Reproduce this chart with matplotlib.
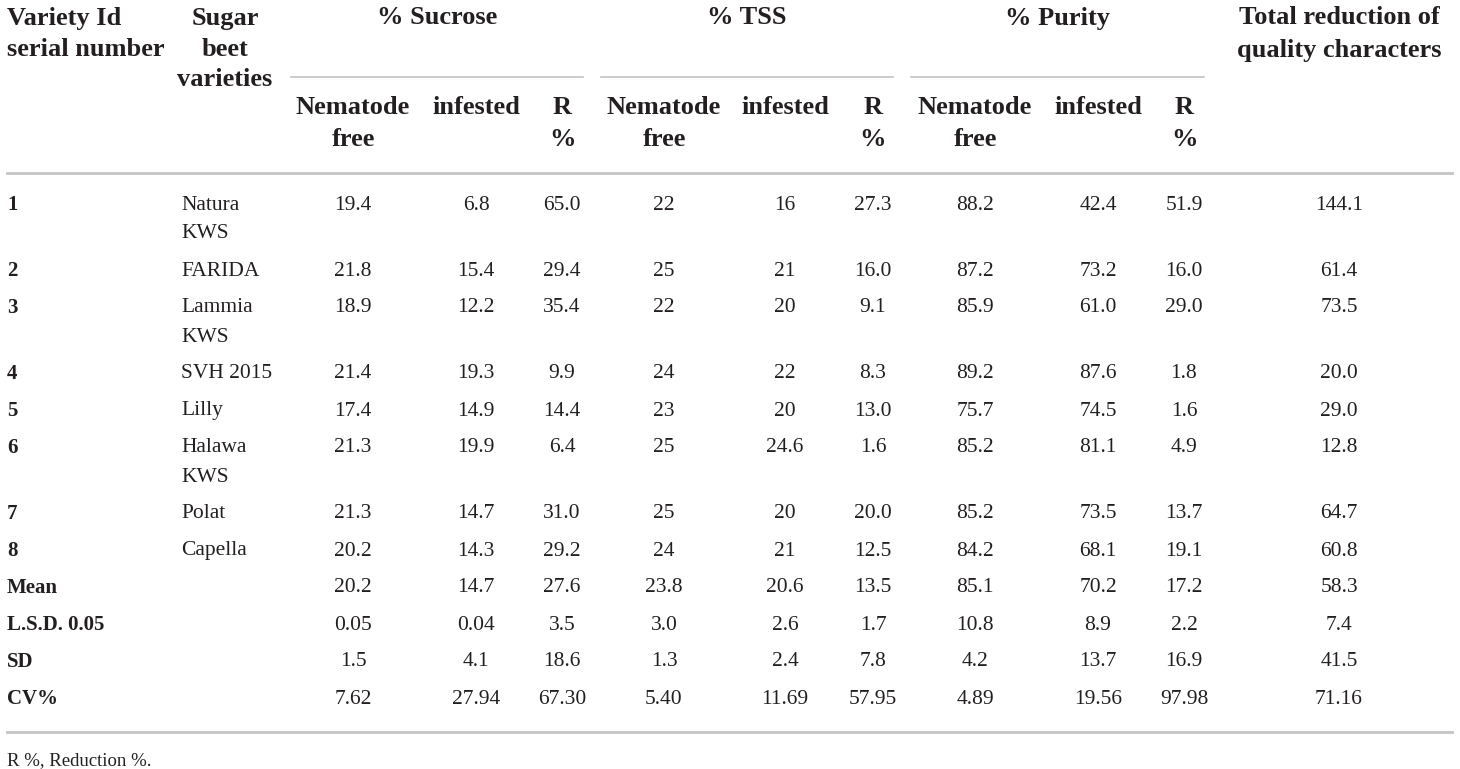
import matplotlib.pyplot as plt

# table contents
ids = ["1", "2", "3", "4", "5", "6", "7", "8", "Mean", "L.S.D. 0.05", "SD", "CV%"]
varieties = ["Natura\nKWS", "FARIDA", "Lammia\nKWS", "SVH 2015", "Lilly", "Halawa\nKWS",
             "Polat", "Capella", "", "", "", ""]
sucrose_free = ["19.4", "21.8", "18.9", "21.4", "17.4", "21.3", "21.3", "20.2", "20.2", "0.05", "1.5", "7.62"]
sucrose_inf = ["6.8", "15.4", "12.2", "19.3", "14.9", "19.9", "14.7", "14.3", "14.7", "0.04", "4.1", "27.94"]
sucrose_r = ["65.0", "29.4", "35.4", "9.9", "14.4", "6.4", "31.0", "29.2", "27.6", "3.5", "18.6", "67.30"]
tss_free = ["22", "25", "22", "24", "23", "25", "25", "24", "23.8", "3.0", "1.3", "5.40"]
tss_inf = ["16", "21", "20", "22", "20", "24.6", "20", "21", "20.6", "2.6", "2.4", "11.69"]
tss_r = ["27.3", "16.0", "9.1", "8.3", "13.0", "1.6", "20.0", "12.5", "13.5", "1.7", "7.8", "57.95"]
purity_free = ["88.2", "87.2", "85.9", "89.2", "75.7", "85.2", "85.2", "84.2", "85.1", "10.8", "4.2", "4.89"]
purity_inf = ["42.4", "73.2", "61.0", "87.6", "74.5", "81.1", "73.5", "68.1", "70.2", "8.9", "13.7", "19.56"]
purity_r = ["51.9", "16.0", "29.0", "1.8", "1.6", "4.9", "13.7", "19.1", "17.2", "2.2", "16.9", "97.98"]
total = ["144.1", "61.4", "73.5", "20.0", "29.0", "12.8", "64.7", "60.8", "58.3", "7.4", "41.5", "71.16"]

groups = ["% Sucrose", "% TSS", "% Purity"]
sub_headers = ["Nematode\nfree", "infested", "R\n%"]
footnote = "R %, Reduction %."

plt.rcParams['font.family'] = ['Liberation Serif', 'DejaVu Serif']
txt = "#231f20"
rule = "#c4c4c4"
fs = 15.5
hfs = 19

fig = plt.figure(figsize=(14.6, 7.69), dpi=100)
ax = fig.add_axes([0, 0, 1, 1])
ax.set_xlim(0, 1460)
ax.set_ylim(769, 0)
ax.axis("off")

line_h = 29
head_h = 32
val_cols = [sucrose_free, sucrose_inf, sucrose_r, tss_free, tss_inf, tss_r,
            purity_free, purity_inf, purity_r, total]
col_x = [353, 476, 562, 664, 785, 873, 975, 1098, 1184, 1339]
group_spans = [(291, 583), (601, 893), (911, 1204)]


def put(x, y, s, ha="center", bold=False, size=fs):
    ax.text(x, y, s, ha=ha, va="center", fontsize=size, color=txt,
            fontweight="bold" if bold else "normal")


def put_lines(x, y, s, ha="center", bold=False, size=fs, step=line_h):
    for k, part in enumerate(s.split("\n")):
        put(x, y + k * step, part, ha=ha, bold=bold, size=size)


# header
put_lines(7, 18, "Variety Id\nserial number", ha="left", bold=True, size=hfs, step=head_h)
put_lines(225, 18, "Sugar\nbeet\nvarieties", bold=True, size=hfs, step=31)
for g, (x0, x1) in zip(groups, group_spans):
    put((x0 + x1) / 2, 18, g, bold=True, size=hfs)
    ax.plot([x0, x1], [77, 77], color=rule, lw=1.2)
for i in range(9):
    put_lines(col_x[i], 108, sub_headers[i % 3], bold=True, size=hfs, step=head_h)
put_lines(1339, 18, "Total reduction of\nquality characters", bold=True, size=hfs, step=head_h)

ax.plot([7, 1452], [173, 173], color=rule, lw=2)

# body
y = 205
for r in range(len(ids)):
    put(7, y, ids[r], ha="left", bold=True, size=15)
    if varieties[r]:
        put_lines(181, y, varieties[r], ha="left")
    for cx, col in zip(col_x, val_cols):
        put(cx, y, col[r])
    y += 37 + line_h * varieties[r].count("\n")

ax.plot([7, 1452], [732, 732], color=rule, lw=2)
put(7, 761, footnote, ha="left", size=13.5)

fig.savefig("out.png", dpi=100, facecolor="white")
